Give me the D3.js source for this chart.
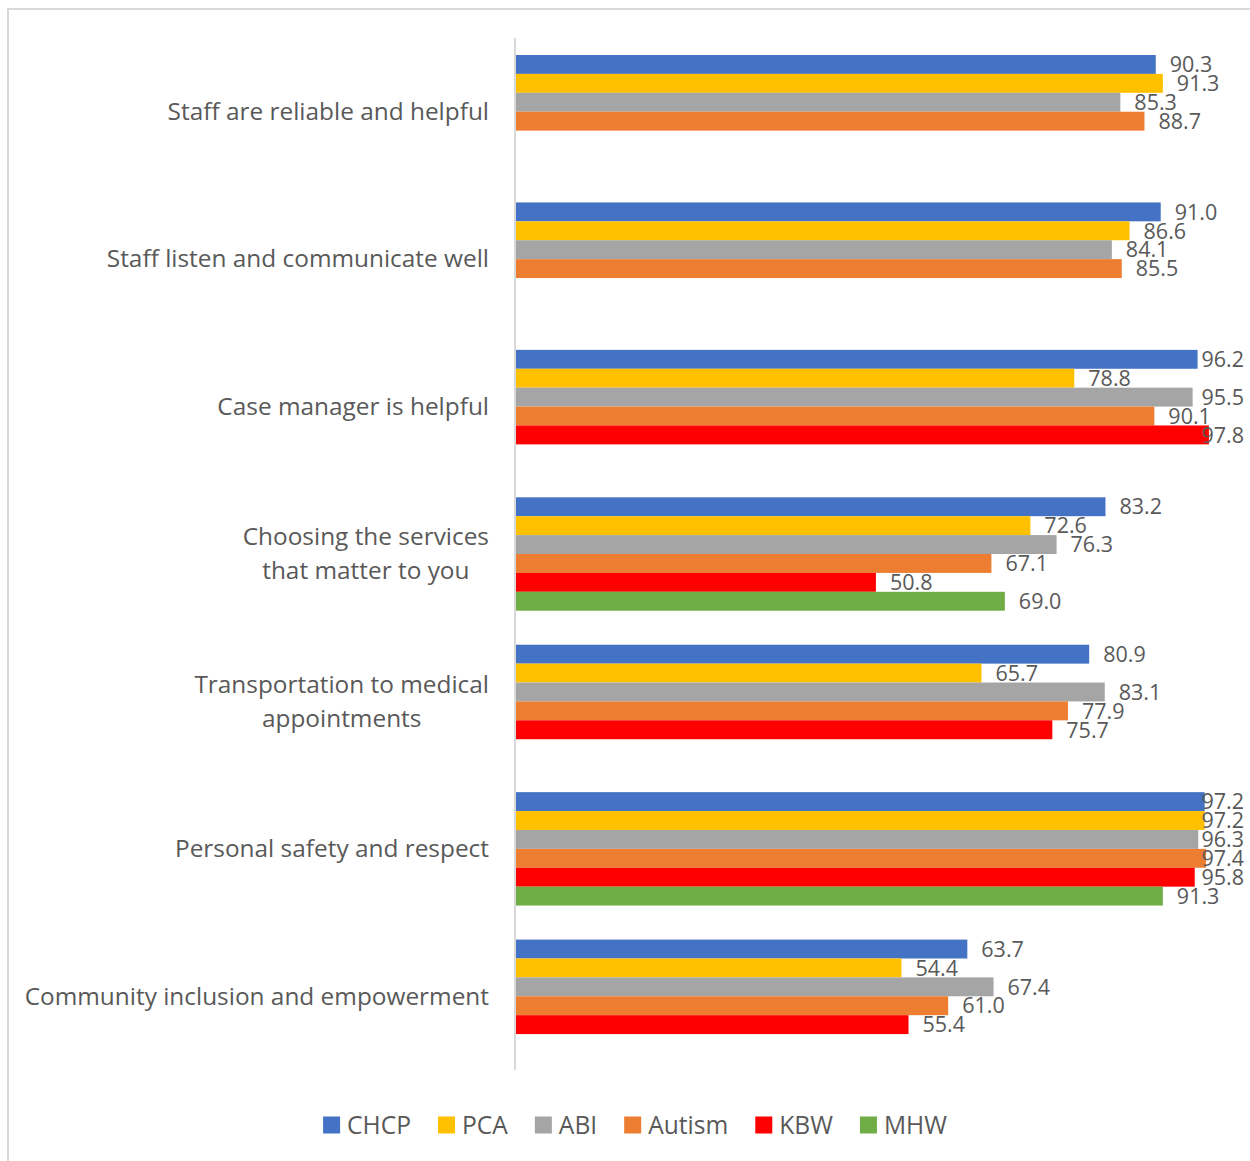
<!DOCTYPE html>
<html>
<head>
<meta charset="utf-8">
<script src="https://cdn.jsdelivr.net/npm/d3@7"></script>
<style>
  html, body { margin: 0; padding: 0; background: #fff; }
  svg { display: block; font-family: "Open Sans", "Noto Sans", sans-serif; }
</style>
</head>
<body>
<svg id="chart" width="1250" height="1161"></svg>
<script>
// Survey topics (top to bottom); "\n" splits a label over two lines
const categories = [
  "Staff are reliable and helpful",
  "Staff listen and communicate well",
  "Case manager is helpful",
  "Choosing the services\nthat matter to you",
  "Transportation to medical\nappointments",
  "Personal safety and respect",
  "Community inclusion and empowerment"
];

// Programs shown as bars within each topic
const series = ["CHCP", "PCA", "ABI", "Autism", "KBW", "MHW"];
const colors = ["#4472C4", "#FFC000", "#A5A5A5", "#ED7D31", "#FF0000", "#70AD47"];

// Percent positive per program, one entry per topic (null = not surveyed)
const CHCP   = [90.3, 91.0, 96.2, 83.2, 80.9, 97.2, 63.7];
const PCA    = [91.3, 86.6, 78.8, 72.6, 65.7, 97.2, 54.4];
const ABI    = [85.3, 84.1, 95.5, 76.3, 83.1, 96.3, 67.4];
const Autism = [88.7, 85.5, 90.1, 67.1, 77.9, 97.4, 61.0];
const KBW    = [null, null, 97.8, 50.8, 75.7, 95.8, 55.4];
const MHW    = [null, null, null, 69.0, null, 91.3, null];

const seriesValues = [CHCP, PCA, ABI, Autism, KBW, MHW];

const svg = d3.select("#chart");
const textColor = "#595959";
const gridColor = "#D9D9D9";

// chart frame
svg.append("rect")
  .attr("x", 8).attr("y", 9)
  .attr("width", 1260).attr("height", 1170)
  .attr("fill", "#fff")
  .attr("stroke", gridColor).attr("stroke-width", 2);

const plot = { left: 516, right: 1224.5, top: 38, bottom: 1070, labelEdge: 1244 };

const x = d3.scaleLinear().domain([0, 100]).range([plot.left, plot.right]);
const y0 = d3.scaleBand().domain(categories).range([plot.top, plot.bottom]).paddingInner(0).paddingOuter(0);
const y1 = d3.scaleBand().domain(series).range([0, y0.bandwidth()]).paddingInner(0).paddingOuter(0.9);

// flatten to one record per bar
const records = [];
categories.forEach((c, ci) => {
  series.forEach((s, si) => {
    const v = seriesValues[si][ci];
    if (v != null) records.push({ category: c, series: s, si, value: v });
  });
});

// bars
svg.append("g").selectAll("rect")
  .data(records)
  .join("rect")
  .attr("x", x(0))
  .attr("y", d => y0(d.category) + y1(d.series))
  .attr("width", d => x(d.value) - x(0))
  .attr("height", y1.bandwidth())
  .attr("fill", d => colors[d.si]);

// value axis line at zero
svg.append("line")
  .attr("x1", plot.left - 1).attr("x2", plot.left - 1)
  .attr("y1", plot.top).attr("y2", plot.bottom)
  .attr("stroke", gridColor).attr("stroke-width", 2);

// value labels: just past bar end, pulled back inside the right edge when needed
const labels = svg.append("g")
  .attr("font-size", "21.5px")
  .attr("fill", textColor)
  .selectAll("text")
  .data(records)
  .join("text")
  .attr("y", d => y0(d.category) + y1(d.series) + y1.bandwidth() / 2)
  .attr("dy", "0.36em")
  .text(d => d.value.toFixed(1));

labels.each(function(d) {
  const w = this.getComputedTextLength();
  const xs = x(d.value) + 14;
  d3.select(this).attr("x", Math.min(xs, plot.labelEdge - w));
});

// category labels, right aligned to the axis; multi-line blocks centred on themselves
const catG = svg.append("g")
  .attr("font-size", "24.4px")
  .attr("fill", textColor);

categories.forEach(c => {
  const lines = c.split("\n");
  const cy = y0(c) + y0.bandwidth() / 2;
  const lineH = 34;
  const t = catG.append("text")
    .attr("text-anchor", "middle");
  lines.forEach((ln, i) => {
    t.append("tspan")
      .attr("y", cy + (i - (lines.length - 1) / 2) * lineH)
      .attr("dy", "0.34em")
      .text(ln);
  });
  // measure widest line and set centre so the block ends at the label edge
  let maxW = 0;
  t.selectAll("tspan").each(function() { maxW = Math.max(maxW, this.getComputedTextLength()); });
  t.selectAll("tspan").attr("x", 489 - maxW / 2);
});

// legend
const legend = svg.append("g").attr("font-size", "24.6px").attr("fill", textColor);
const legendY = 1125, sw = 17, gapIn = 7, gapOut = 27;
const items = series.map((s, i) => {
  const g = legend.append("g");
  g.append("rect").attr("width", sw).attr("height", sw).attr("y", legendY - sw / 2).attr("fill", colors[i]);
  const t = g.append("text").attr("x", sw + gapIn).attr("y", legendY).attr("dy", "0.36em").text(s);
  return { g, w: sw + gapIn + t.node().getComputedTextLength() };
});
const totalW = d3.sum(items, d => d.w) + gapOut * (items.length - 1);
let lx = 635 - totalW / 2;
items.forEach(it => {
  it.g.attr("transform", `translate(${lx},0)`);
  lx += it.w + gapOut;
});
</script>
</body>
</html>
